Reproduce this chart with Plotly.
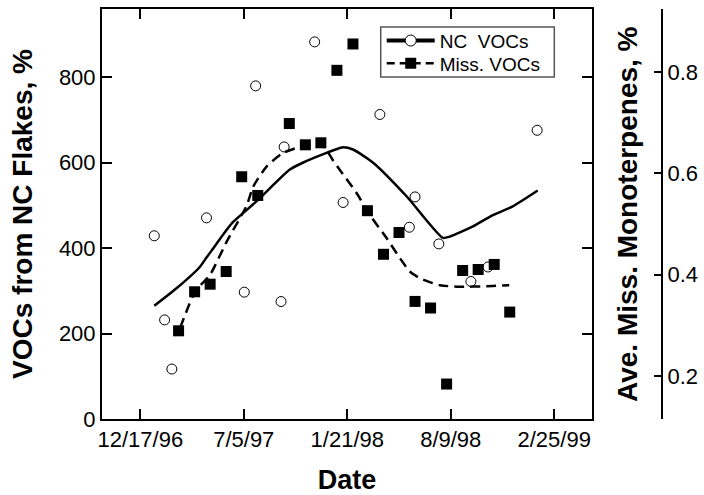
import plotly.graph_objects as go

# ---------------- data ----------------
nc_dates = ["1997-01-13", "1997-02-02", "1997-02-16", "1997-04-24", "1997-07-06",
            "1997-07-28", "1997-09-15", "1997-09-21", "1997-11-19", "1998-01-13",
            "1998-03-25", "1998-05-21", "1998-06-01", "1998-07-17", "1998-09-17",
            "1998-10-20", "1999-01-23"]
nc_values = [429, 232, 117, 471, 297, 780, 275, 637, 883, 507,
             713, 449, 520, 410, 322, 356, 676]

miss_dates = ["1997-03-01", "1997-04-01", "1997-05-01", "1997-06-01", "1997-07-01",
              "1997-08-01", "1997-10-01", "1997-11-01", "1997-12-01", "1998-01-01",
              "1998-02-01", "1998-03-01", "1998-04-01", "1998-05-01", "1998-06-01",
              "1998-07-01", "1998-08-01", "1998-09-01", "1998-10-01", "1998-11-01",
              "1998-12-01"]
miss_values = [0.289, 0.366, 0.381, 0.406, 0.593, 0.556, 0.698, 0.656, 0.660, 0.803,
               0.855, 0.526, 0.440, 0.483, 0.347, 0.334, 0.184, 0.408, 0.410, 0.420,
               0.326]

nc_fit_dates = ["1997-01-13", "1997-02-25", "1997-04-11", "1997-04-24", "1997-05-06",
                "1997-06-02", "1997-06-15", "1997-07-30", "1997-10-02", "1997-10-27",
                "1997-12-12", "1998-01-11", "1998-02-01", "1998-03-12", "1998-05-16",
                "1998-07-25", "1998-08-07", "1998-09-21", "1998-10-24", "1998-12-07",
                "1999-01-24"]
nc_fit_values = [265, 306, 356, 378, 398, 443, 462, 510, 584, 600,
                 623, 636, 631, 600, 521, 424, 427, 451, 474, 498, 535]

miss_fit_dates = ["1997-03-04", "1997-04-02", "1997-05-01", "1997-06-02", "1997-07-11",
                  "1997-07-23", "1997-08-18", "1997-09-19", "1997-10-22", "1997-11-23",
                  "1997-12-09", "1997-12-24", "1998-01-07", "1998-02-08", "1998-03-06",
                  "1998-04-07", "1998-05-03", "1998-05-22", "1998-06-10", "1998-07-19",
                  "1998-08-27", "1998-10-17", "1998-11-30"]
miss_fit_values = [0.295, 0.366, 0.400, 0.465, 0.537, 0.573, 0.613, 0.640, 0.652, 0.659,
                   0.650, 0.626, 0.606, 0.561, 0.517, 0.472, 0.432, 0.406, 0.393, 0.379,
                   0.376, 0.377, 0.379]

x_tick_vals = ["1996-12-17", "1997-07-05", "1998-01-21", "1998-08-09", "1999-02-25"]
x_tick_text = ["12/17/96", "7/5/97", "1/21/98", "8/9/98", "2/25/99"]
x_range = ["1996-10-04", "1999-05-09"]
y_range = [0, 960]
y2_range = [0.115, 0.924]

# ---------------- figure ----------------
FONT = "Liberation Sans, Arial, Helvetica, sans-serif"
fig = go.Figure()

fig.add_trace(go.Scatter(x=nc_fit_dates, y=nc_fit_values, mode="lines",
                         line=dict(color="black", width=2.5, shape="spline", smoothing=0.6),
                         showlegend=False, hoverinfo="skip"))
fig.add_trace(go.Scatter(x=nc_dates, y=nc_values, mode="markers",
                         marker=dict(symbol="circle", size=10, color="white",
                                     line=dict(color="black", width=1)),
                         showlegend=False))
fig.add_trace(go.Scatter(x=miss_fit_dates, y=miss_fit_values, mode="lines", yaxis="y2",
                         line=dict(color="black", width=2.5, dash="10px,6px",
                                   shape="spline", smoothing=0.6),
                         showlegend=False, hoverinfo="skip"))
fig.add_trace(go.Scatter(x=miss_dates, y=miss_values, mode="markers", yaxis="y2",
                         marker=dict(symbol="square", size=11, color="black",
                                     line=dict(color="black", width=0)),
                         showlegend=False))

# legend entries (one per legend so the row spacing can match)
fig.add_trace(go.Scatter(x=[None], y=[None], mode="lines+markers", name="NC  VOCs",
                         legend="legend",
                         line=dict(color="black", width=4),
                         marker=dict(symbol="circle", size=11, color="white",
                                     line=dict(color="black", width=1))))
fig.add_trace(go.Scatter(x=[None], y=[None], mode="lines+markers", name="Miss. VOCs",
                         legend="legend2",
                         line=dict(color="black", width=2.5, dash="8px,5px"),
                         marker=dict(symbol="square", size=11, color="black")))

axis_common = dict(showgrid=False, zeroline=False, showline=True, linecolor="black",
                   linewidth=2, ticks="inside", tickcolor="black", tickwidth=1.5,
                   automargin=False,
                   tickfont=dict(family=FONT, size=22, color="black"))

legend_common = dict(xanchor="left", yanchor="middle", bgcolor="rgba(0,0,0,0)",
                     borderwidth=0, font=dict(family=FONT, size=19, color="black"),
                     itemwidth=48)

fig.update_layout(
    width=704, height=495,
    margin=dict(l=102, r=42, t=9, b=76),
    paper_bgcolor="white", plot_bgcolor="white",
    font=dict(family=FONT, color="black"),
    xaxis=dict(axis_common, type="date", domain=[0, 0.875], range=x_range,
               tickvals=x_tick_vals, ticktext=x_tick_text, ticklen=10, mirror="ticks",
               title=dict(text="Date", font=dict(family=FONT, size=27, weight="bold"),
                          standoff=20)),
    yaxis=dict(axis_common, range=y_range, tickvals=[0, 200, 400, 600, 800],
               ticklen=10, mirror="ticks",
               title=dict(text="VOCs from NC Flakes, %",
                          font=dict(family=FONT, size=28, weight="bold"), standoff=18)),
    yaxis2=dict(axis_common, range=y2_range, tickvals=[0.2, 0.4, 0.6, 0.8],
                ticktext=["0.2", "0.4", "0.6", "0.8"], ticklen=7,
                overlaying="y", side="right", anchor="free", position=1.0),
    legend=dict(legend_common, x=0.4995, y=0.9227),
    legend2=dict(legend_common, x=0.4995, y=0.8676),
    shapes=[dict(type="rect", xref="paper", yref="paper",
                 x0=0.4977, x1=0.8077, y0=0.8341, y1=0.9561,
                 line=dict(color="#555555", width=1.5), fillcolor="white",
                 layer="above")],
    annotations=[dict(text="Ave. Miss. Monoterpenes, %", textangle=-90,
                      xref="paper", yref="paper", x=0.9375, y=0.5,
                      xanchor="center", yanchor="middle", showarrow=False,
                      font=dict(family=FONT, size=28, weight="bold", color="black"))],
)

fig.write_html("out.html")
